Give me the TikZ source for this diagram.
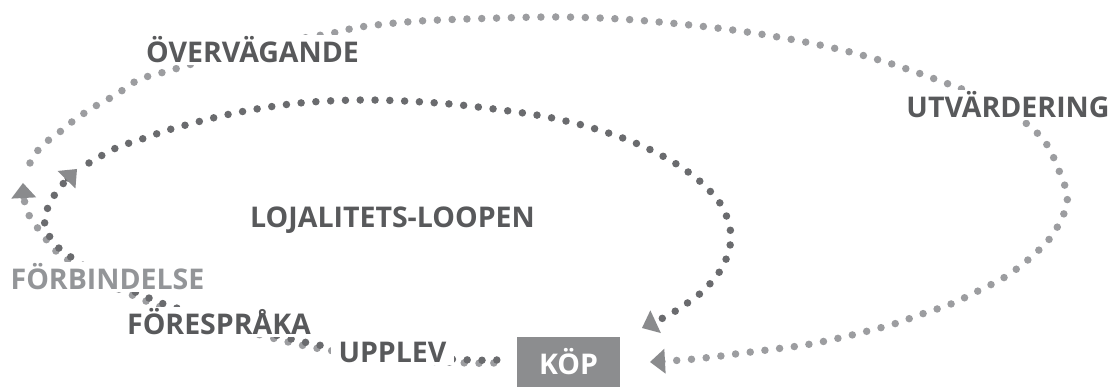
\documentclass[tikz,border=0pt]{standalone}
\usepackage{fontspec}
\setmainfont{Open Sans}
\usetikzlibrary{arrows.meta}
\definecolor{txtdark}{HTML}{58595B}
\definecolor{txtlight}{HTML}{939598}
\definecolor{dotlight}{HTML}{9C9DA0}
\definecolor{dotdark}{HTML}{6A6B6E}
\definecolor{tipgrey}{HTML}{8A8B8D}
\definecolor{boxgrey}{HTML}{8C8D8F}
\pgfdeclarelayer{back}
\pgfsetlayers{back,main}
\tikzset{
  dots/.style={line width=7.5pt, line cap=round, dash pattern=on 0pt off 14.8pt},
  outerdots/.style={dots, draw=dotlight},
  innerdots/.style={dots, draw=dotdark},
  tipped/.style={-{Triangle[width=25pt,length=15pt,line width=0pt,color=tipgrey]}},
  stage/.style={font=\fontsize{28.5}{30}\selectfont\bfseries, text=txtdark,
                fill=white, inner sep=2pt, anchor=base},
}
\begin{document}
\begin{tikzpicture}[x=1pt,y=-1pt]
\useasboundingbox (0,0) rectangle (1112,387);

% purchase box
\node[fill=boxgrey, minimum width=103pt, minimum height=50pt, inner sep=0pt,
      text=white, font=\fontsize{28.5}{30}\selectfont\bfseries] (kop) at (568.5,362) {KÖP};

% stage labels (white fill hides the dotted loops behind them)
\node[stage] (overv)  at (252.5,63)  {ÖVERVÄGANDE};
\node[stage] (utv)    at (1008,118)  {UTVÄRDERING};
\node[stage] (loop)   at (392.5,228) {LOJALITETS-LOOPEN};
\node[stage, text=txtlight] (forb) at (107.5,290) {FÖRBINDELSE};
\node[stage] (foresp) at (219,335)   {FÖRESPRÅKA};
\node[stage, inner xsep=8pt] (upplev) at (392.5,363) {UPPLEV};

% loop ends next to KÖP, arrow tips and restart points
\coordinate (kopL)  at ([xshift=-23pt,yshift=-1pt]kop.west);
\coordinate (kopI)  at ([xshift=-20pt,yshift=2pt]kop.west);
\coordinate (tipL)  at (23,183);
\coordinate (tipI)  at (77,169);
\coordinate (tipK)  at (650,362);
\coordinate (tipI2) at (642,328);
\coordinate (outS)  at (30,163);
\coordinate (inS)   at (89,163);

\begin{pgfonlayer}{back}
% outer loop, lower leg: from KÖP round to the upward tip
\draw[outerdots, tipped] plot[smooth, tension=0.55] coordinates {
  (kopL) (467,363) (397,359) (327,350) (284,341) (227,326) (167,309) (139,298)
  (97,279) (71,262) (59,254) (49,243) (40,231) (31,219) (25,204) (tipL)};
% outer loop, upper leg: over the top and back into KÖP
\draw[outerdots, tipped] plot[smooth, tension=0.55] coordinates {
  (outS) (39,149) (50,139) (61,131) (73,121) (86,112) (99,104) (112,97) (126,88)
  (140,79) (168,71) (250,48) (333,33) (360,27) (420,21) (500,18) (560,17) (620,19)
  (680,24) (740,31) (800,41) (850,52) (895,65) (951,85) (1000,105) (1042,138)
  (1060,173) (1067,195) (1065,211) (1051,237) (1029,259) (1005,277) (978,291)
  (951,304) (922,314) (894,324) (864,332) (835,339) (805,345) (775,349) (743,353)
  (713,357) (683,360) (tipK)};
% loyalty loop, lower leg
\draw[innerdots, tipped] plot[smooth, tension=0.55] coordinates {
  (kopI) (470,360) (400,356) (330,347) (287,338) (230,323) (170,306) (142,295)
  (100,276) (74,259) (62,251) (52,240) (45,227) (46,213) (52,199) (62,185) (tipI)};
% loyalty loop, upper leg
\draw[innerdots, tipped] plot[smooth, tension=0.55] coordinates {
  (inS) (116,148) (145,138) (175,128) (235,113) (300,103) (370,100) (450,104)
  (530,114) (570,122) (599,130) (628,140) (655,152) (681,167) (704,185) (723,208)
  (731,237) (723,266) (703,291) (677,310) (663,318) (tipI2)};
\end{pgfonlayer}
\end{tikzpicture}
\end{document}
